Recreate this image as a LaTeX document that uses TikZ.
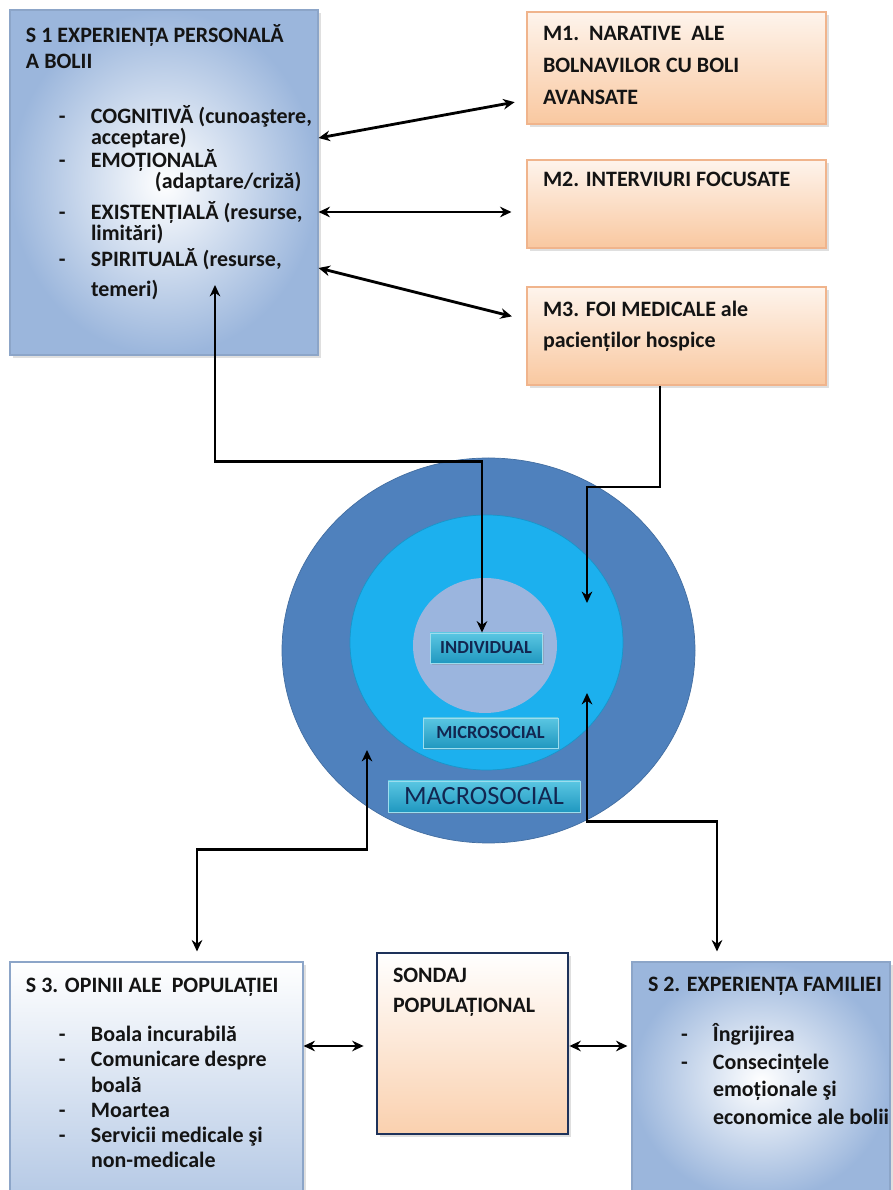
\documentclass[tikz,border=0pt]{standalone}
\usepackage{fontspec}
\setmainfont{Carlito}
\usetikzlibrary{positioning, calc, shapes.geometric, arrows.meta, shadows}

\definecolor{outerblue}{RGB}{79,129,189}
\definecolor{midblue}{RGB}{28,176,238}
\definecolor{innerblue}{RGB}{155,181,222}
\definecolor{navy}{RGB}{18,38,80}
\definecolor{peach}{RGB}{249,200,160}
\definecolor{peachline}{RGB}{240,180,140}
\definecolor{steel}{RGB}{155,182,220}
\definecolor{steelline}{RGB}{140,165,200}
\definecolor{labtop}{RGB}{90,198,226}
\definecolor{labbot}{RGB}{32,152,192}
\definecolor{ink}{RGB}{20,20,20}
\definecolor{sdline}{RGB}{30,50,90}

\newcommand{\topbox}[3]{\parbox[c][#2][t]{#1}{\raggedright\leftskip=0.32cm\relax#3}}
\newcommand{\dashln}{\makebox[1.3cm][l]{\hspace{0.66cm}-}}
\newcommand{\contln}{\hspace*{1.3cm}}

\begin{document}
\begin{tikzpicture}[>={Stealth[length=6.5pt,width=6pt]},
		link/.style={line width=1.6pt, draw=black},
		sbox/.style={draw=steelline, line width=0.6pt, inner sep=0pt, text=ink, font=\bfseries, drop shadow={opacity=0.25, shadow xshift=1.5pt, shadow yshift=-1.5pt}},
		mbox/.style={draw=peachline, line width=0.6pt, inner sep=0pt, text=ink, font=\bfseries, top color=white!80!peach, bottom color=peach, drop shadow={opacity=0.25, shadow xshift=1.5pt, shadow yshift=-1.5pt}},
		lab/.style={draw=labtop!60!white, line width=0.5pt, inner sep=0pt, top color=labtop, bottom color=labbot, text=navy, drop shadow={opacity=0.3, shadow xshift=1pt, shadow yshift=-1pt}},
		ring/.style={ellipse, inner sep=0pt}]
	\useasboundingbox (0,0) rectangle (17.86,23.8);
	\clip (0,0) rectangle (17.86,23.8);

	\node (s1) [sbox, inner color=white, outer color=steel] at (3.28,20.15) {\topbox{6.16cm}{6.9cm}{%
		\fontsize{12.5}{15}\selectfont\rule{0pt}{18.5pt}S 1 EXPERIENȚA PERSONALĂ\\ A BOLII\par
		\vspace{19pt}\fontsize{12.5}{12}\selectfont
		\dashln COGNITIVĂ (cunoaştere,\\
		\contln acceptare)\\
		\dashln EMOȚIONALĂ\\
		\hspace*{2.58cm}(adaptare/criză)\\[4pt]
		\dashln EXISTENȚIALĂ (resurse,\\
		\contln limitări)\\[2pt]
		\dashln SPIRITUALĂ (resurse,\\[5pt]
		\contln temeri)}};
	\node (m1) [mbox] at (13.53,22.44) {\topbox{5.98cm}{2.24cm}{%
		\fontsize{12.5}{18.4}\selectfont\rule{0pt}{16pt}M1.\ \ NARATIVE\ \ ALE\\ BOLNAVILOR CU BOLI\\ AVANSATE}};
	\node (m2) [mbox] at (13.53,19.72) {\topbox{5.98cm}{1.76cm}{%
		\fontsize{12.5}{18}\selectfont\rule{0pt}{15.3pt}M2. INTERVIURI FOCUSATE}};
	\node (m3) [mbox] at (13.53,17.08) {\topbox{5.98cm}{1.96cm}{%
		\fontsize{12.5}{17.6}\selectfont\rule{0pt}{17pt}M3. FOI MEDICALE ale\\ pacienților hospice}};

	\node (ring1) [ring, fill=outerblue, draw=outerblue!85!black, minimum width=8.26cm, minimum height=7.7cm] at (9.77,10.79) {};
	\node (ring2) [ring, fill=midblue, draw=midblue!85!black, minimum width=5.46cm, minimum height=5.1cm] at (9.73,10.95) {};
	\node (ring3) [ring, fill=innerblue, minimum width=2.88cm, minimum height=2.7cm] at (9.70,10.89) {};
	\node (ind) [lab, minimum width=2.24cm, minimum height=0.6cm, font=\bfseries\fontsize{10.5}{12}\selectfont] at (9.72,10.84) {INDIVIDUAL};
	\node (mic) [lab, minimum width=2.7cm, minimum height=0.6cm, font=\bfseries\fontsize{10.5}{12}\selectfont] at (9.81,9.14) {MICROSOCIAL};
	\node (mac) [lab, minimum width=3.84cm, minimum height=0.62cm, font=\fontsize{15}{16}\selectfont] at (9.68,7.87) {MACROSOCIAL};

	\node (s3) [sbox, top color=white, bottom color=steel!75] at (3.13,2.18) {\topbox{5.86cm}{4.76cm}{%
		\fontsize{12.5}{15}\selectfont\rule{0pt}{17.6pt}S 3. OPINII ALE\ \ POPULAȚIEI\par
		\vspace{13.5pt}\fontsize{12.5}{14.3}\selectfont
		\dashln Boala incurabilă\\
		\dashln Comunicare despre\\
		\contln boală\\
		\dashln Moartea\\
		\dashln Servicii medicale şi\\
		\contln non-medicale}};
	\node (sd) [draw=sdline, line width=1.6pt, inner sep=0pt, text=ink, font=\bfseries, top color=white, bottom color=peach!85, drop shadow={opacity=0.25, shadow xshift=1.5pt, shadow yshift=-1.5pt}] at (9.45,2.93) {\topbox{3.82cm}{3.62cm}{%
		\fontsize{12.5}{17}\selectfont\rule{0pt}{17pt}SONDAJ\\ POPULAȚIONAL}};
	\node (s2) [sbox, inner color=white, outer color=steel] at (15.22,2.18) {\topbox{5.16cm}{4.76cm}{%
		\fontsize{12.5}{15}\selectfont\rule{0pt}{17pt}S 2. EXPERIENȚA FAMILIEI\par
		\vspace{12.6pt}\fontsize{12.5}{15.7}\selectfont
		\dashln Îngrijirea\\
		\dashln Consecințele\\
		\contln emoționale şi\\
		\contln economice ale bolii}};

	\coordinate (s1in) at (4.30,18.10);
	\coordinate (microin) at (11.74,11.74);
	\coordinate (microup) at (11.74,9.94);
	\coordinate (macroin) at (7.34,8.80);

	\draw [link, <->, shorten >=0.24cm] ([yshift=0.89cm]s1.east) -- ([yshift=-0.64cm]m1.west);
	\draw [link, <->, shorten >=0.3cm] ([yshift=-0.59cm]s1.east) -- ([yshift=-0.59cm]s1.east -| m2.west);
	\draw [link, <->, shorten >=0.3cm] ([yshift=-1.71cm]s1.east) -- ([yshift=0.32cm]m3.west);

	\draw [link, <->] (s1in) |- ($(ind.north)+(-0.08,3.42)$) -- ($(ind.north)+(-0.08,0)$);
	\draw [link, ->] ([xshift=-0.33cm]m3.south) |- ($(microin)+(0,2.32)$) -- (microin);
	\draw [link, <->, shorten >=0.2cm] (macroin) |- ($(s3.north)+(0.81,2.24)$) -- ($(s3.north)+(0.81,0)$);
	\draw [link, <->, shorten >=0.2cm] (microup) |- ($(s2.north)+(-0.88,2.8)$) -- ($(s2.north)+(-0.88,0)$);

	\draw [link, <->, shorten >=0.24cm] ([yshift=0.7cm]s3.east) -- ([yshift=0.7cm]s3.east -| sd.west);
	\draw [link, <->, shorten >=0.08cm] ([yshift=-0.05cm]sd.east) -- ([yshift=-0.05cm]sd.east -| s2.west);
\end{tikzpicture}
\end{document}
